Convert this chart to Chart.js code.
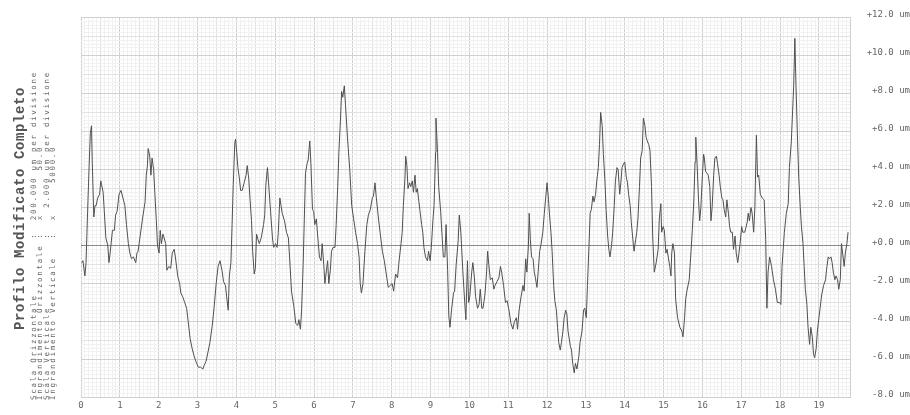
<!DOCTYPE html>
<html>
<head>
<meta charset="utf-8">
<title>Profilo Modificato Completo</title>
<script src="https://cdn.jsdelivr.net/npm/chart.js@4.4.1/dist/chart.umd.min.js"></script>
<style>
  html, body { margin: 0; padding: 0; background: #ffffff; overflow: hidden; }
  canvas { display: block; }
</style>
</head>
<body>
<canvas id="profile" width="910" height="415"></canvas>
<script>
// Profile position along the trace, in horizontal divisions (200 um each)
const profileX = [
  0.02,0.05,0.10,0.13,0.17,0.21,0.24,0.27,0.29,0.33,
  0.36,0.39,0.43,0.48,0.51,0.53,0.57,0.60,0.64,0.69,
  0.72,0.75,0.81,0.86,0.89,0.93,0.98,1.03,1.08,1.13,
  1.17,1.22,1.26,1.30,1.35,1.41,1.44,1.47,1.53,1.59,
  1.65,1.68,1.71,1.73,1.77,1.80,1.83,1.87,1.90,1.94,
  1.97,2.01,2.04,2.07,2.11,2.14,2.18,2.21,2.26,2.31,
  2.35,2.40,2.43,2.49,2.54,2.57,2.62,2.67,2.72,2.76,
  2.81,2.86,2.91,2.96,3.02,3.08,3.14,3.17,3.22,3.27,
  3.32,3.38,3.43,3.48,3.53,3.58,3.63,3.67,3.72,3.75,
  3.79,3.82,3.86,3.89,3.92,3.96,3.98,4.01,4.04,4.08,
  4.11,4.15,4.20,4.25,4.28,4.32,4.35,4.39,4.42,4.46,
  4.49,4.52,4.56,4.59,4.64,4.70,4.73,4.76,4.80,4.83,
  4.88,
  4.93,4.96,5.01,5.05,5.08,5.12,5.15,5.18,5.24,5.29,
  5.34,5.37,5.42,5.48,5.53,5.58,5.61,5.65,5.68,5.72,
  5.75,5.78,5.82,5.85,5.89,5.92,5.96,5.99,6.02,6.06,
  6.09,6.14,6.18,6.21,6.25,6.28,6.32,6.35,6.38,6.42,
  6.45,6.49,6.54,6.57,6.61,6.64,6.68,6.71,6.74,6.78,
  6.81,6.86,6.92,6.97,7.02,7.07,7.12,7.16,7.19,7.22,
  7.26,7.31,7.36,7.40,7.45,7.50,7.53,7.57,7.60,7.65,
  7.70,7.76,7.81,7.86,7.91,7.96,8.01,8.05,8.10,8.15,
  8.18,8.24,8.27,8.30,8.34,8.36,8.39,8.42,8.46,8.49,
  8.53,8.56,8.60,8.63,8.66,8.70,8.73,8.77,8.80,8.83,
  8.87,8.92,8.95,8.99,9.02,9.06,9.09,9.13,9.14,9.18,
  9.21,9.26,9.30,9.33,9.37,9.40,9.44,9.47,9.50,9.54,
  9.59,9.62,9.66,9.71,9.74,9.78,9.83,9.88,9.91,9.95,
  9.98,
  10.01,10.06,10.09,10.13,10.16,10.21,10.25,10.28,10.32,10.35,
  10.40,10.44,10.47,10.50,10.54,10.59,10.63,10.66,10.71,10.76,
  10.80,10.83,10.88,10.93,10.97,11.02,11.07,11.12,11.16,11.21,
  11.24,11.28,11.33,11.38,11.41,11.45,11.48,11.52,11.54,11.57,
  11.60,11.64,11.67,11.70,11.74,11.77,11.81,11.84,11.89,11.93,
  11.96,12.00,12.03,12.06,12.10,12.13,12.17,12.20,12.24,12.27,
  12.30,12.34,12.37,12.41,12.44,12.48,12.51,12.54,12.60,12.63,
  12.66,12.70,12.73,12.77,12.82,12.85,12.90,12.94,12.97,13.01,
  13.04,13.08,13.11,13.14,13.18,13.21,13.25,13.28,13.32,13.35,
  13.38,13.42,13.45,13.49,13.52,13.56,13.59,13.62,13.66,13.69,
  13.73,13.76,13.80,13.83,13.87,13.90,13.93,13.97,14.00,14.04,
  14.07,14.10,14.14,14.17,14.21,14.24,14.28,14.31,14.34,14.38,
  14.41,14.45,14.48,14.52,14.55,14.58,14.62,14.65,14.69,14.72,
  14.76,14.81,14.86,14.89,14.93,
  14.95,14.99,15.02,15.06,15.09,15.12,15.16,15.19,15.21,15.24,
  15.28,15.31,15.36,15.42,15.47,15.50,15.54,15.57,15.60,15.66,
  15.71,15.74,15.78,15.81,15.83,15.86,15.90,15.93,15.96,16.00,
  16.03,16.05,16.08,16.12,16.15,16.19,16.22,16.25,16.29,16.32,
  16.36,16.39,16.43,16.46,16.50,16.53,16.56,16.60,16.63,16.67,
  16.70,16.73,16.77,16.80,16.84,16.87,16.91,16.94,16.97,17.01,
  17.04,17.09,17.15,17.18,17.21,17.25,17.28,17.32,17.35,17.39,
  17.42,17.45,17.49,17.54,17.59,17.63,17.66,17.69,17.73,17.78,
  17.83,17.88,17.93,17.99,18.02,18.05,18.11,18.16,18.21,18.24,
  18.29,18.35,18.38,18.41,18.45,18.48,18.52,18.55,18.59,18.62,
  18.65,18.69,18.72,18.76,18.79,18.83,18.86,18.89,18.93,18.96,
  19.00,19.03,19.07,19.12,19.17,19.20,19.24,19.27,19.31,19.34,
  19.37,19.41,19.44,19.48,19.51,19.55,19.58,19.61,19.65,19.68,
  19.72,19.75
];

// Profile height at each position, in um
const profileY = [
  -0.9,-0.8,-1.6,-0.9,1.8,4.2,5.9,6.3,4.4,1.5,
  2.1,2.1,2.5,2.7,3.4,3.2,2.8,1.8,0.4,0.0,
  -0.9,-0.4,0.8,0.8,1.6,1.8,2.7,2.9,2.5,2.1,
  1.1,0.1,-0.4,-0.7,-0.6,-0.9,-0.4,-0.3,0.6,1.5,
  2.3,3.7,4.2,5.1,4.7,3.7,4.6,4.0,2.8,1.3,
  0.0,-0.4,0.8,0.1,0.6,0.4,0.1,-1.3,-1.1,-1.2,
  -0.4,-0.2,-0.6,-1.6,-2.0,-2.5,-2.7,-3.0,-3.3,-4.0,
  -4.9,-5.4,-5.8,-6.1,-6.4,-6.4,-6.5,-6.3,-6.1,-5.6,
  -5.1,-4.2,-3.2,-2.0,-1.1,-0.8,-1.3,-1.9,-2.1,-2.7,
  -3.4,-1.6,-0.9,1.1,3.2,5.4,5.6,4.9,4.1,3.5,
  2.9,2.9,3.3,3.7,4.2,3.5,2.5,1.3,-0.3,-1.5,
  -1.2,0.6,0.3,0.1,0.4,1.1,1.6,3.2,4.1,3.3,
  1.8,
  0.4,-0.1,0.1,-0.1,0.7,2.5,2.1,1.7,1.3,0.7,
  0.4,-0.6,-2.4,-3.2,-4.1,-4.2,-3.9,-4.4,-3.4,-1.0,
  1.4,3.8,4.3,4.5,5.5,4.3,1.9,1.8,1.1,1.4,
  0.6,-0.6,-0.8,0.1,-1.0,-2.0,-1.3,-0.8,-2.0,-1.3,
  -0.3,-0.1,-0.1,1.1,3.1,4.9,6.6,8.1,7.8,8.4,
  7.4,5.7,4.0,2.1,1.4,0.7,0.1,-0.6,-2.0,-2.5,
  -2.0,-0.3,1.1,1.6,1.9,2.5,2.6,3.3,2.6,1.6,
  0.7,-0.3,-0.8,-1.5,-2.2,-2.1,-2.0,-2.4,-1.5,-1.7,
  -1.0,0.1,0.7,2.1,3.5,4.7,4.2,3.0,3.3,3.1,
  3.4,2.8,3.7,2.8,3.0,2.3,1.8,1.1,0.7,-0.1,
  -0.6,-0.8,-0.3,-0.8,-0.1,1.3,2.1,4.9,6.7,4.9,
  3.1,1.8,0.4,-0.6,-0.6,1.1,-1.3,-3.7,-4.3,-3.4,
  -2.5,-2.4,-1.0,0.2,1.6,0.7,-1.3,-3.0,-3.9,-0.8,
  -3.0,
  -2.7,-1.4,-0.9,-1.7,-2.7,-3.3,-3.1,-2.3,-3.3,-3.3,
  -2.6,-1.5,-0.3,-1.0,-1.8,-1.7,-2.3,-2.1,-1.9,-1.7,
  -1.1,-1.4,-2.1,-3.0,-2.9,-3.4,-4.1,-4.4,-4.0,-3.8,
  -4.4,-3.4,-2.7,-2.1,-2.4,-0.7,-1.4,0.0,1.7,0.3,
  -0.6,-0.7,-1.4,-1.7,-2.2,-1.4,-0.3,0.0,0.7,1.7,
  2.4,3.3,2.6,1.7,0.7,-0.3,-2.1,-2.9,-3.4,-4.3,
  -5.1,-5.5,-5.1,-4.5,-3.8,-3.4,-3.6,-4.5,-5.3,-5.5,
  -6.2,-6.7,-6.2,-6.5,-5.8,-5.1,-4.5,-3.4,-3.3,-3.8,
  -2.1,0.0,1.7,1.9,2.6,2.3,2.7,3.4,4.1,5.3,
  7.0,6.3,4.8,3.4,1.9,0.5,-0.2,-0.6,0.0,0.7,
  2.1,3.4,4.1,4.0,2.7,3.3,4.1,4.3,4.4,3.6,
  3.3,2.7,2.1,1.2,0.3,-0.3,0.3,0.7,1.4,3.1,
  4.6,5.0,6.7,6.3,5.7,5.5,5.3,5.0,3.1,0.5,
  -1.4,-0.9,-0.2,1.4,2.2,
  0.7,1.0,0.8,-0.4,-0.2,-0.6,-1.1,-1.6,-0.4,0.1,
  -0.4,-2.8,-3.8,-4.3,-4.5,-4.8,-3.8,-2.8,-2.4,-1.8,
  -0.2,0.8,2.4,4.4,5.7,4.4,2.4,1.3,2.0,3.7,
  4.8,4.6,3.9,3.8,3.7,3.1,1.3,2.0,3.7,4.6,
  4.7,4.3,3.7,3.1,2.5,2.4,1.9,1.5,2.4,1.7,
  1.0,0.7,0.7,-0.2,0.5,-0.4,-0.9,-0.4,0.1,1.0,
  0.7,0.7,1.2,1.7,1.3,2.0,1.7,0.7,2.0,5.8,
  3.6,3.7,2.7,2.5,2.4,0.3,-3.3,-1.4,-0.6,-1.1,
  -1.8,-2.3,-3.0,-3.0,-3.1,-1.1,0.7,1.7,2.2,4.1,
  5.5,8.4,10.9,8.4,5.5,3.6,2.0,1.0,0.1,-1.1,
  -2.3,-3.1,-4.3,-5.2,-4.3,-4.8,-5.7,-5.9,-5.4,-4.5,
  -3.8,-3.3,-2.6,-2.1,-1.8,-1.2,-0.6,-0.7,-0.6,-0.9,
  -1.4,-1.8,-1.6,-1.8,-2.3,-1.8,0.1,-0.4,-1.1,-0.4,
  0.1,0.7
];

// Axis extents: horizontal divisions and vertical um
const xRange = [0, 19.8];
const yRange = [-8, 12];

// Side caption
const titleText = 'Profilo Modificato Completo';
const settingLabels = ['Scala Orizzontale', 'Ingrandimento Orizzontale', 'Scala Verticale', 'Ingrandimento Verticale'];
const settingPrefixes = ['', 'x', '', 'x'];
const settingValues = ['200.000', '50.0', '2.000', '5000.0'];
const settingUnits = ['um per divisione', '', 'um per divisione', ''];

const points = [];
for (let i = 0; i < Math.min(profileX.length, profileY.length); i++) {
  points.push({ x: profileX[i], y: profileY[i] });
}

const GRID_MAJOR = '#d0d0d0';
const GRID_MID = '#e2e2e2';
const GRID_MINOR = '#f1f1f1';
const ZERO_LINE = '#8a8a8a';
const TEXT = '#555555';
const TEXT_LIGHT = '#666666';

// Rotated caption block on the left margin, laid out on a fixed character grid
const sideCaption = {
  id: 'sideCaption',
  afterDraw(chart) {
    const ctx = chart.ctx;
    ctx.save();
    ctx.textBaseline = 'middle';
    ctx.textAlign = 'left';

    ctx.save();
    ctx.fillStyle = TEXT;
    ctx.translate(20, 330);
    ctx.rotate(-Math.PI / 2);
    ctx.font = 'bold 14px "Liberation Mono", "DejaVu Sans Mono", monospace';
    ctx.letterSpacing = '0.6px';
    ctx.fillText(titleText, 0, 0);
    ctx.restore();

    const adv = 6.2;
    const rowX = [34, 40.5, 47, 53.5];
    ctx.fillStyle = TEXT_LIGHT;
    settingLabels.forEach((label, i) => {
      ctx.save();
      ctx.font = '7.5px "DejaVu Sans Mono", monospace';
      ctx.letterSpacing = '1.7px';
      ctx.translate(rowX[i], 400);
      ctx.rotate(-Math.PI / 2);
      ctx.fillText(label, 0, 0);
      ctx.fillText(':', 26 * adv, 0);
      if (settingPrefixes[i]) ctx.fillText(settingPrefixes[i], 29 * adv, 0);
      const endCol = settingUnits[i] ? 36 : 41;
      ctx.fillText(settingValues[i], (endCol - settingValues[i].length) * adv, 0);
      if (settingUnits[i]) ctx.fillText(settingUnits[i], 37 * adv, 0);
      ctx.restore();
    });
    ctx.restore();
  }
};

function xGridColor(c) {
  const k = Math.round(c.tick.value * 10);
  if (k % 10 === 0) return GRID_MAJOR;
  if (k % 5 === 0) return GRID_MID;
  return GRID_MINOR;
}
function yGridColor(c) {
  const k = Math.round(c.tick.value * 5);
  if (k === 0) return ZERO_LINE;
  if (k % 10 === 0) return GRID_MAJOR;
  if (k % 5 === 0) return GRID_MID;
  return GRID_MINOR;
}

new Chart(document.getElementById('profile'), {
  type: 'line',
  data: {
    datasets: [{
      data: points,
      borderColor: '#505050',
      borderWidth: 1,
      pointRadius: 0,
      tension: 0,
      fill: false
    }]
  },
  options: {
    responsive: false,
    devicePixelRatio: 1,
    animation: false,
    events: [],
    layout: { padding: { left: 81, top: 14, right: 0, bottom: 0 } },
    plugins: { legend: { display: false }, tooltip: { enabled: false } },
    scales: {
      x: {
        type: 'linear',
        min: xRange[0],
        max: xRange[1],
        afterFit(s) { s.height = 14; },
        grid: { color: xGridColor, lineWidth: 1, drawTicks: false },
        border: { color: GRID_MAJOR, width: 1 },
        ticks: {
          stepSize: 0.1,
          autoSkip: false,
          maxRotation: 0,
          minRotation: 0,
          padding: 3,
          color: TEXT_LIGHT,
          font: { family: '"DejaVu Sans Mono", monospace', size: 9 },
          callback(v) {
            const k = Math.round(v * 10);
            return k % 10 === 0 ? String(k / 10) : '';
          }
        }
      },
      y: {
        type: 'linear',
        position: 'right',
        min: yRange[0],
        max: yRange[1],
        afterFit(s) { s.width = 60; },
        grid: { color: yGridColor, lineWidth: 1, drawTicks: false },
        border: { color: GRID_MAJOR, width: 1 },
        ticks: {
          stepSize: 0.2,
          autoSkip: false,
          padding: 12,
          labelOffset: -3,
          crossAlign: 'far',
          color: TEXT_LIGHT,
          font: { family: '"DejaVu Sans Mono", monospace', size: 9 },
          callback(v) {
            const k = Math.round(v * 5);
            if (k % 10 !== 0) return '';
            const n = k / 5;
            return (n >= 0 ? '+' : '-') + Math.abs(n).toFixed(1) + ' um';
          }
        }
      }
    }
  },
  plugins: [sideCaption]
});
</script>
</body>
</html>
